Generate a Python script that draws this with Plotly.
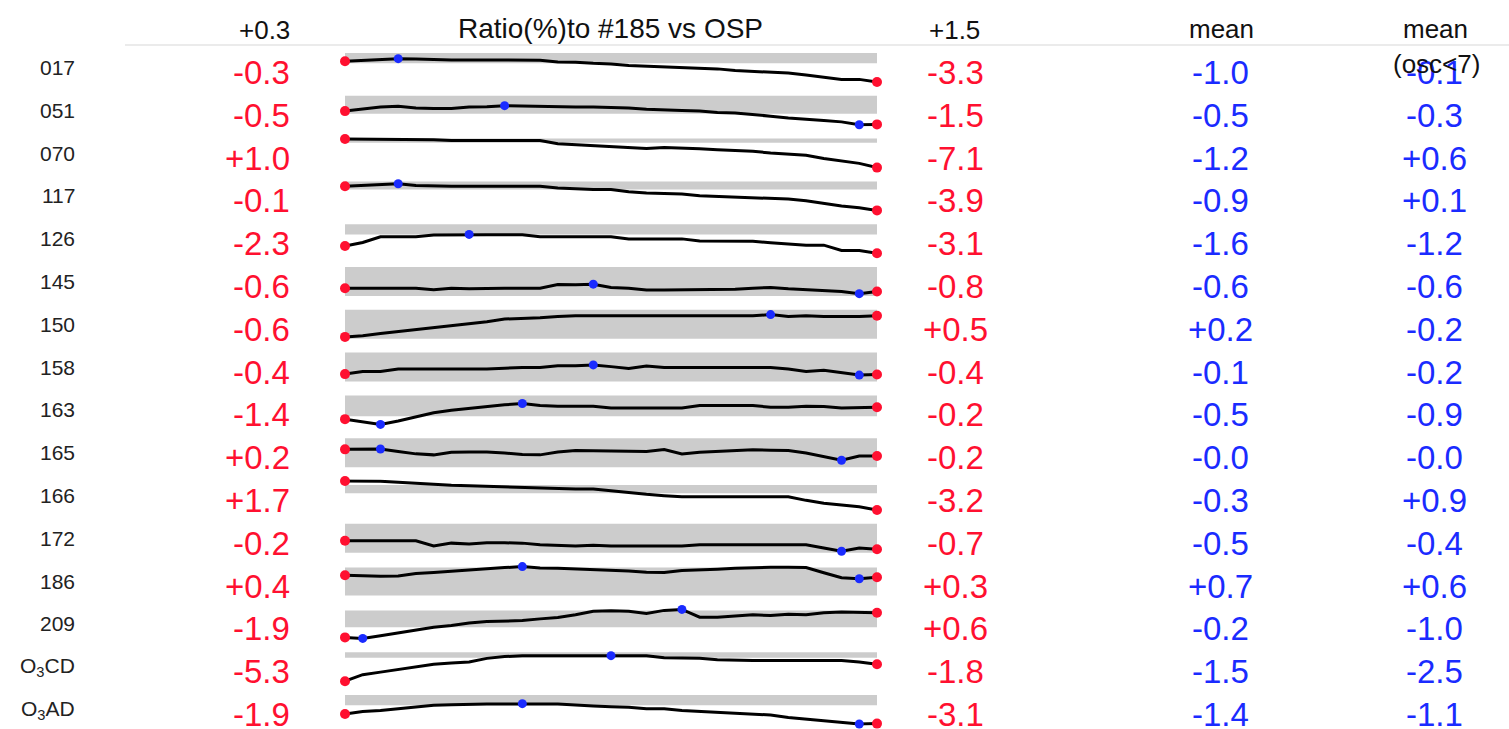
import plotly.graph_objects as go

# ---------------- data ----------------
row_labels = ["017", "051", "070", "117", "126", "145", "150", "158", "163", "165",
              "166", "172", "186", "209", "O<sub>3</sub>CD", "O<sub>3</sub>AD"]
first_vals = [-0.3, -0.5, 1.0, -0.1, -2.3, -0.6, -0.6, -0.4, -1.4, 0.2, 1.7, -0.2, 0.4, -1.9, -5.3, -1.9]
last_vals = [-3.3, -1.5, -7.1, -3.9, -3.1, -0.8, 0.5, -0.4, -0.2, -0.2, -3.2, -0.7, 0.3, 0.6, -1.8, -3.1]
mean_vals = [-1.0, -0.5, -1.2, -0.9, -1.6, -0.6, 0.2, -0.1, -0.5, -0.0, -0.3, -0.5, 0.7, -0.2, -1.5, -1.4]
mean_osc_vals = [-0.1, -0.3, 0.6, 0.1, -1.2, -0.6, -0.2, -0.2, -0.9, -0.0, 0.9, -0.4, 0.6, -1.0, -2.5, -1.1]

band_lo = [-0.6, -0.7, -0.1, -0.63, -1.0, -1.07, -0.7, -0.79, -1.11, -0.87, -0.38, -0.91, -0.65, -0.87, -0.45, -0.83]
band_hi = [0.9, 0.65, 1.1, 0.65, 0.14, 0.67, 0.81, 0.72, 1.0, 0.87, 1.02, 0.8, 0.8, 0.84, 0.67, 0.46]

r017 = [-0.3, -0.2, 0.0, 0.08, 0.03, -0.06, -0.1, -0.1, -0.1, -0.1, -0.1, -0.15, -0.4, -0.44, -0.59, -0.68,
        -0.92, -1.0, -1.16, -1.16, -1.3, -1.4, -1.63, -1.78, -1.87, -2.01, -2.3, -2.63, -2.92, -2.92, -3.3]
r051 = [-0.5, -0.33, -0.19, -0.14, -0.26, -0.31, -0.31, -0.19, -0.17, -0.09, -0.12, -0.17, -0.19, -0.19, -0.19,
        -0.21, -0.26, -0.36, -0.38, -0.45, -0.5, -0.6, -0.64, -0.74, -0.88, -1.02, -1.14, -1.21, -1.31, -1.53, -1.5]
r070 = [1.0, 1.0, 1.0, 1.0, 1.0, 0.8, 0.54, 0.54, 0.54, 0.54, 0.54, 0.54, -0.38, -0.66, -1.03, -1.3, -1.49,
        -1.7, -1.45, -1.55, -1.76, -2.04, -2.22, -2.5, -2.96, -3.33, -3.6, -4.52, -5.26, -5.9, -7.1]
r117 = [-0.1, 0.0, 0.2, 0.28, 0.0, -0.1, -0.1, -0.1, -0.1, -0.1, -0.1, -0.1, -0.37, -0.53, -0.63, -0.63, -0.96,
        -1.17, -1.22, -1.33, -1.6, -1.7, -1.76, -1.86, -2.03, -2.13, -2.4, -2.83, -3.2, -3.47, -3.9]
r126 = [-2.3, -1.9, -1.27, -1.27, -1.27, -1.08, -1.05, -1.0, -1.05, -1.05, -1.05, -1.27, -1.27, -1.27, -1.27,
        -1.27, -1.5, -1.5, -1.5, -1.5, -1.73, -1.73, -1.73, -1.77, -1.92, -2.1, -2.2, -2.2, -2.8, -2.8, -3.1]
r145 = [-0.6, -0.6, -0.6, -0.6, -0.6, -0.69, -0.6, -0.64, -0.6, -0.6, -0.6, -0.6, -0.38, -0.4, -0.36, -0.56,
        -0.6, -0.71, -0.71, -0.71, -0.69, -0.71, -0.67, -0.6, -0.56, -0.64, -0.69, -0.71, -0.8, -0.93, -0.8]
r150 = [-0.6, -0.54, -0.43, -0.33, -0.23, -0.12, -0.02, 0.08, 0.19, 0.33, 0.35, 0.4, 0.46, 0.5, 0.5, 0.5, 0.5,
        0.5, 0.5, 0.5, 0.5, 0.5, 0.5, 0.5, 0.56, 0.46, 0.5, 0.46, 0.46, 0.46, 0.5]
r158 = [-0.4, -0.26, -0.26, -0.13, -0.13, -0.13, -0.13, -0.13, -0.13, -0.09, -0.05, -0.05, 0.03, 0.03, 0.08,
        -0.01, -0.11, 0.02, -0.05, -0.05, -0.05, -0.05, -0.05, -0.05, -0.05, -0.13, -0.26, -0.2, -0.32, -0.45, -0.42]
r163 = [-1.4, -1.69, -1.93, -1.58, -1.18, -0.75, -0.49, -0.31, -0.09, 0.05, 0.18, -0.02, -0.09, -0.09, -0.09,
        -0.27, -0.27, -0.27, -0.27, -0.27, -0.02, -0.02, -0.02, -0.02, -0.2, -0.2, -0.09, -0.13, -0.27, -0.27, -0.2]
r165 = [0.2, 0.2, 0.22, 0.07, -0.07, -0.13, 0.02, 0.04, 0.04, -0.02, -0.11, -0.13, 0.04, 0.13, 0.11, 0.13, 0.09,
        0.07, 0.19, -0.07, 0.02, 0.07, 0.16, 0.18, 0.15, 0.13, -0.02, -0.24, -0.45, -0.2, -0.2]
r166 = [1.7, 1.7, 1.64, 1.47, 1.31, 1.08, 0.97, 0.91, 0.8, 0.69, 0.57, 0.46, 0.4, 0.35, 0.35, 0.01, -0.27,
        -0.55, -0.78, -0.95, -0.95, -0.95, -0.95, -0.95, -0.95, -0.95, -1.57, -2.07, -2.35, -2.64, -3.2]
r172 = [-0.2, -0.2, -0.2, -0.2, -0.2, -0.51, -0.34, -0.39, -0.32, -0.32, -0.34, -0.44, -0.46, -0.51, -0.46,
        -0.51, -0.51, -0.51, -0.51, -0.51, -0.44, -0.44, -0.44, -0.44, -0.44, -0.44, -0.44, -0.63, -0.82, -0.63, -0.7]
r186 = [0.4, 0.36, 0.35, 0.36, 0.49, 0.55, 0.62, 0.69, 0.75, 0.8, 0.85, 0.78, 0.76, 0.73, 0.71, 0.67, 0.62,
        0.56, 0.55, 0.65, 0.67, 0.71, 0.76, 0.8, 0.82, 0.82, 0.8, 0.53, 0.27, 0.22, 0.3]
r209 = [-1.9, -2.0, -1.73, -1.45, -1.11, -0.87, -0.7, -0.43, -0.29, -0.22, -0.19, -0.02, 0.12, 0.39, 0.74, 0.8,
        0.74, 0.53, 0.84, 0.94, 0.15, 0.15, 0.26, 0.39, 0.33, 0.46, 0.39, 0.6, 0.67, 0.67, 0.6]
r_o3cd = [-5.3, -3.96, -3.43, -2.91, -2.31, -1.79, -1.57, -1.34, -0.6, -0.23, -0.08, -0.08, -0.08, -0.08, -0.08,
          -0.04, -0.08, -0.08, -0.45, -0.52, -0.6, -0.9, -1.05, -1.05, -1.05, -1.05, -1.05, -1.05, -1.05, -1.34, -1.8]
r_o3ad = [-1.9, -1.6, -1.47, -1.26, -1.04, -0.83, -0.74, -0.66, -0.66, -0.66, -0.62, -0.66, -0.66, -0.83, -0.91,
          -1.0, -1.08, -1.26, -1.26, -1.47, -1.6, -1.69, -1.77, -1.9, -2.03, -2.33, -2.54, -2.76, -2.89, -3.15, -3.1]

series = [r017, r051, r070, r117, r126, r145, r150, r158, r163, r165, r166, r172, r186, r209, r_o3cd, r_o3ad]

header_first = "+0.3"
header_title = "Ratio(%)to #185 vs OSP"
header_last = "+1.5"
header_mean = "mean"
header_mean_osc = ["mean", "(osc<7)"]

# ---------------- layout helpers (screen pixels) ----------------
FW, FH = 1509, 729
def px_x(p):
    return p / FW
def px_y(p):
    return 1 - p / FH

ROW0, PITCH, SPARK_H, PADPX = 53.0, 42.8, 29.0, 1.8
X_LEFT, X_RIGHT = 345, 877
RED = "#ff1030"
BLUE = "#1a2bff"
FONT = "Liberation Sans, Arial, Helvetica, sans-serif"

fig = go.Figure()
layout_axes = {}

for i, s in enumerate(series):
    n = len(s)
    xs = list(range(n))
    yname = "y" if i == 0 else f"y{i+1}"
    lname = "yaxis" if i == 0 else f"yaxis{i+1}"
    lo = min(min(s), band_lo[i])
    hi = max(max(s), band_hi[i])
    pad = (hi - lo) * PADPX / SPARK_H
    top = ROW0 + PITCH * i - PADPX
    bot = ROW0 + PITCH * i + SPARK_H + PADPX
    r_hi, r_lo = hi + pad, lo - pad
    if bot > FH:
        r_lo = r_hi - (r_hi - r_lo) * (FH - top) / (bot - top)
        bot = FH
    layout_axes[lname] = dict(domain=[max(0.0, px_y(bot)), px_y(top)], range=[r_lo, r_hi],
                              visible=False, fixedrange=True, anchor="x")
    # grey band
    fig.add_trace(go.Scatter(x=[xs[0], xs[-1], xs[-1], xs[0]],
                             y=[band_lo[i], band_lo[i], band_hi[i], band_hi[i]],
                             fill="toself", fillcolor="#cccccc", mode="lines",
                             line=dict(width=0, color="#cccccc"),
                             xaxis="x", yaxis=yname, hoverinfo="skip", showlegend=False))
    # sparkline
    fig.add_trace(go.Scatter(x=xs, y=s, mode="lines", line=dict(color="black", width=3),
                             xaxis="x", yaxis=yname, hoverinfo="skip", showlegend=False))
    # blue extremes (if interior)
    imax = max(range(n), key=lambda k: (s[k], -k))
    imin = min(range(n), key=lambda k: (s[k], k))
    bx = [k for k in (imax, imin) if 0 < k < n - 1]
    if bx:
        fig.add_trace(go.Scatter(x=bx, y=[s[k] for k in bx], mode="markers",
                                 marker=dict(color=BLUE, size=9), cliponaxis=False,
                                 xaxis="x", yaxis=yname, hoverinfo="skip", showlegend=False))
    # red end points
    fig.add_trace(go.Scatter(x=[xs[0], xs[-1]], y=[s[0], s[-1]], mode="markers",
                             marker=dict(color=RED, size=10), cliponaxis=False,
                             xaxis="x", yaxis=yname, hoverinfo="skip", showlegend=False))

annotations = []
def ann(text, x, y, size, color, xanchor="center"):
    annotations.append(dict(text=text, x=px_x(x), y=px_y(y), xref="paper", yref="paper",
                            xanchor=xanchor, yanchor="middle", showarrow=False,
                            font=dict(family=FONT, size=size, color=color)))

def fmt(v):
    return f"{v:+.1f}"

NUM_SIZE = 33
for i in range(len(series)):
    yl = 67.5 + PITCH * i
    yn = 72.5 + PITCH * i
    ann(row_labels[i], 77, yl, 21, "#222222", "right")
    ann(fmt(first_vals[i]), 292, yn, NUM_SIZE, RED, "right")
    ann(fmt(last_vals[i]), 955, yn, NUM_SIZE, RED)
    ann(fmt(mean_vals[i]), 1220, yn, NUM_SIZE, BLUE)
    ann(fmt(mean_osc_vals[i]), 1434, yn, NUM_SIZE, BLUE)

ann(header_first, 292, 30, 26, "#111111", "right")
ann(header_title, 610, 29, 28, "#111111")
ann(header_last, 954, 30, 26, "#111111")
ann(header_mean, 1221, 29, 26, "#111111")
ann(header_mean_osc[0], 1435, 29, 26, "#111111")
ann(header_mean_osc[1], 1436, 64, 26, "#111111")

fig.update_layout(
    width=FW, height=FH, margin=dict(l=0, r=0, t=0, b=0),
    paper_bgcolor="white", plot_bgcolor="rgba(0,0,0,0)",
    hovermode=False, showlegend=False,
    xaxis=dict(domain=[px_x(X_LEFT), px_x(X_RIGHT)], range=[0, len(r017) - 1],
               visible=False, fixedrange=True, anchor="y"),
    annotations=annotations,
    shapes=[dict(type="line", xref="paper", yref="paper", x0=px_x(125), x1=1.0,
                 y0=px_y(45), y1=px_y(45), line=dict(color="#ebebeb", width=2))],
    **layout_axes,
)

fig.write_html("out.html", config={"displayModeBar": False},
               post_script="document.body.style.margin='0';document.body.style.overflow='hidden';")
